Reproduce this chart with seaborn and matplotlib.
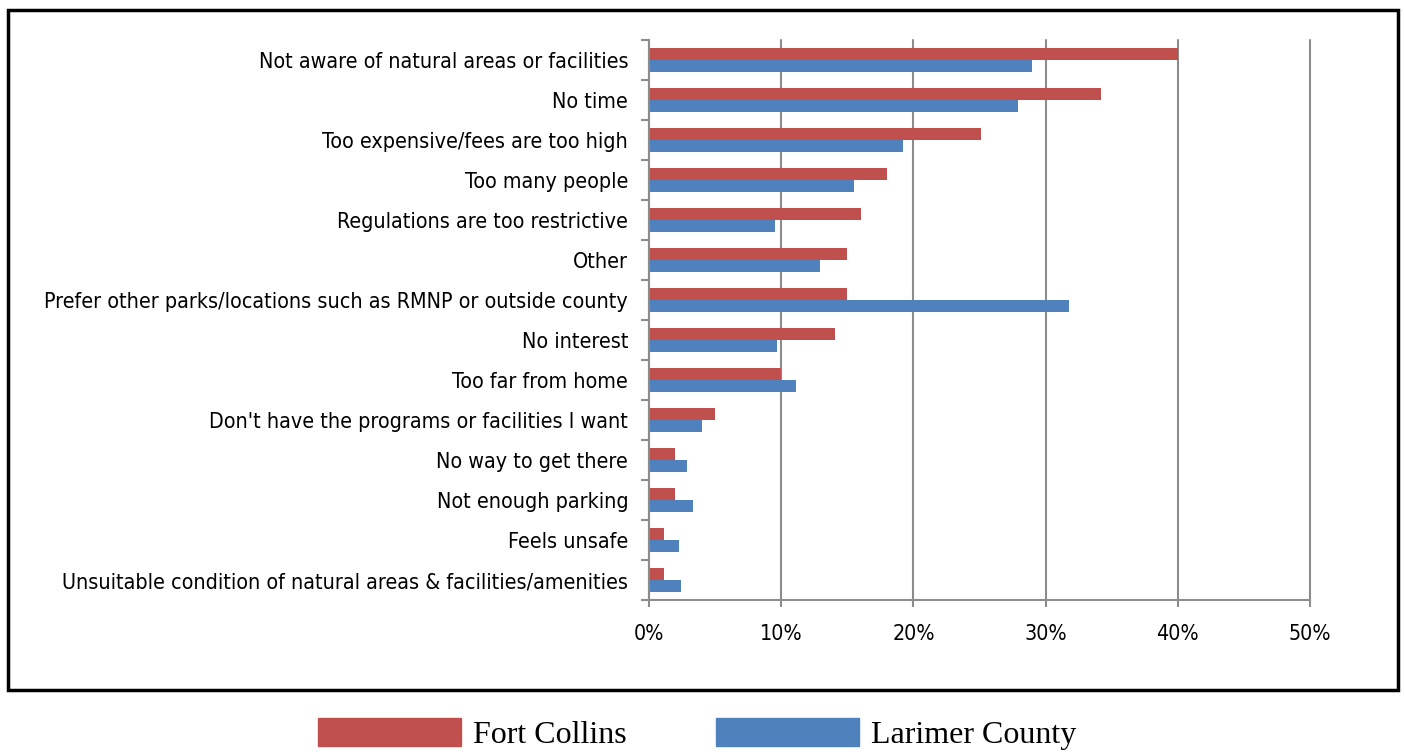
import pandas as pd
import numpy as np
import matplotlib.pyplot as plt
import matplotlib.patches as mpatches
from matplotlib.ticker import FixedLocator, PercentFormatter
import seaborn as sns

# data (percent of respondents)
reasons = [
    "Not aware of natural areas or facilities",
    "No time",
    "Too expensive/fees are too high",
    "Too many people",
    "Regulations are too restrictive",
    "Other",
    "Prefer other parks/locations such as RMNP or outside county",
    "No interest",
    "Too far from home",
    "Don't have the programs or facilities I want",
    "No way to get there",
    "Not enough parking",
    "Feels unsafe",
    "Unsuitable condition of natural areas & facilities/amenities",
]
fort_collins = [40.0, 34.2, 25.1, 18.0, 16.0, 15.0, 15.0, 14.1, 10.0, 5.0, 2.0, 2.0, 1.1, 1.1]
larimer = [29.0, 27.9, 19.2, 15.5, 9.5, 12.9, 31.8, 9.7, 11.1, 4.0, 2.9, 3.3, 2.3, 2.4]
series = ["Fort Collins", "Larimer County"]
colors = ["#C0504D", "#4F81BD"]

df = pd.DataFrame({"reason": reasons * 2,
                   "pct": fort_collins + larimer,
                   "area": [series[0]] * len(reasons) + [series[1]] * len(reasons)})

sns.set_style("white")
plt.rcParams['font.family'] = ['DejaVu Sans']
plt.rcParams['font.stretch'] = 'condensed'

fig = plt.figure(figsize=(14.04, 7.52), dpi=100)
ax = fig.add_axes([649 / 1404, 1 - 600 / 752, (1310 - 649) / 1404, 560 / 752])

sns.barplot(data=df, y="reason", x="pct", hue="area", order=reasons,
            hue_order=series, palette=colors, width=0.6, orient="h",
            saturation=1, legend=False, ax=ax, linewidth=0)

ax.set_xlim(0, 50)
ax.set_ylim(len(reasons) - 0.5, -0.5)
ax.set_xticks(np.arange(0, 51, 10))
ax.xaxis.set_major_formatter(PercentFormatter(decimals=0))
ax.set_xlabel("")
ax.set_ylabel("")

# vertical gridlines
ax.grid(axis="x", color="#8c8c8c", linewidth=1.5)
ax.set_axisbelow(True)
for gl in ax.get_xgridlines():
    gl.set_clip_on(False)

for s in ["top", "right"]:
    ax.spines[s].set_visible(False)
for s in ["left", "bottom"]:
    ax.spines[s].set_color("#8c8c8c")
    ax.spines[s].set_linewidth(1.5)

# tick marks between categories on the y axis
ax.yaxis.set_minor_locator(FixedLocator(np.arange(-0.5, len(reasons), 1)))
ax.tick_params(axis="y", which="major", length=0, pad=15, labelsize=15.4, labelcolor="black")
ax.tick_params(axis="y", which="minor", length=6, width=1.5, color="#8c8c8c", left=True)
ax.tick_params(axis="x", length=5, width=1.5, color="#8c8c8c", bottom=True,
               labelsize=15.4, pad=12, labelcolor="black")

# outer frame round the chart
fig.patches.append(mpatches.Rectangle((8 / 1404, 1 - 690 / 752), 1390 / 1404, 680 / 752,
                                      transform=fig.transFigure, fill=False,
                                      edgecolor="black", linewidth=2.5))

# legend below the frame
handles = [mpatches.Patch(color=c, label=l) for c, l in zip(colors, series)]
leg = fig.legend(handles=handles, loc="center", bbox_to_anchor=(0.4968, 1 - 734 / 752),
                 ncol=2, frameon=False, handlelength=4.45, handleheight=0.95,
                 columnspacing=2.8, handletextpad=0.4, borderpad=0, borderaxespad=0,
                 prop={"family": "Liberation Serif", "size": 23, "stretch": "normal"})
for t in leg.get_texts():
    t.set_color("black")

fig.savefig("out.png", dpi=100)
